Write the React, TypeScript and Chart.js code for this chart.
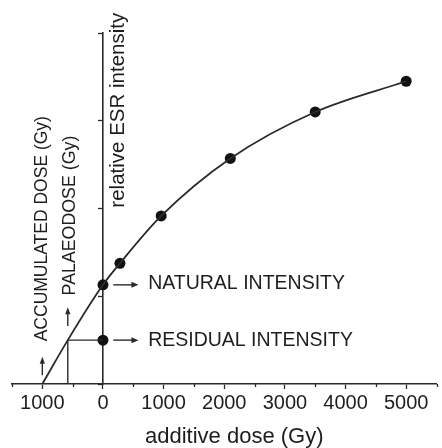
import React, { useEffect, useRef } from 'react';
import { Chart, registerables } from 'chart.js';

Chart.register(...registerables);

// measured points: additive dose (Gy) vs relative ESR intensity
const additiveDose = [0, 280, 960, 2100, 3500, 5000];
const esrIntensity = [1.13, 1.375, 1.915, 2.57, 3.1, 3.45];
// extrapolation read-offs
const accumulatedDose = -1000;
const palaeodose = -580;
const residualIntensity = 0.5;
const naturalIntensity = 1.13;
// axis labels
const xTitle = 'additive dose (Gy)';
const yTitle = 'relative ESR intensity';
const accumulatedLabel = 'ACCUMULATED DOSE (Gy)';
const palaeoLabel = 'PALAEODOSE (Gy)';
const naturalLabel = 'NATURAL INTENSITY';
const residualLabel = 'RESIDUAL INTENSITY';

const FONT = "'Liberation Sans', Arial, Helvetica, sans-serif";
const INK = '#1e1e1e';
const LINE = '#2a2a2a';

function arrow(ctx: CanvasRenderingContext2D, x1: number, y1: number, x2: number, y2: number, head = 7, half = 3) {
  const ang = Math.atan2(y2 - y1, x2 - x1);
  ctx.beginPath();
  ctx.moveTo(x1, y1);
  ctx.lineTo(x2 - Math.cos(ang) * head * 0.6, y2 - Math.sin(ang) * head * 0.6);
  ctx.stroke();
  ctx.beginPath();
  ctx.moveTo(x2, y2);
  ctx.lineTo(x2 - Math.cos(ang) * head - Math.sin(ang) * half, y2 - Math.sin(ang) * head + Math.cos(ang) * half);
  ctx.lineTo(x2 - Math.cos(ang) * head + Math.sin(ang) * half, y2 - Math.sin(ang) * head - Math.cos(ang) * half);
  ctx.closePath();
  ctx.fill();
}

const annotations = {
  id: 'esrAnnotations',
  afterDatasetsDraw(chart: any) {
    const { ctx } = chart;
    const xs = chart.scales.x;
    const ys = chart.scales.y;
    const px = (v: number) => xs.getPixelForValue(v);
    const py = (v: number) => ys.getPixelForValue(v);
    ctx.save();
    ctx.strokeStyle = LINE;
    ctx.fillStyle = LINE;
    ctx.lineWidth = 1.4;
    // horizontal arrows to labels
    arrow(ctx, px(170), py(naturalIntensity), px(585), py(naturalIntensity));
    arrow(ctx, px(170), py(residualIntensity), px(585), py(residualIntensity));
    // vertical arrows
    arrow(ctx, px(accumulatedDose), py(0.1), px(accumulatedDose), py(0.31), 7, 2.6);
    arrow(ctx, px(palaeodose), py(0.66), px(palaeodose), py(0.875), 7, 2.6);

    ctx.fillStyle = INK;
    ctx.textBaseline = 'middle';
    ctx.textAlign = 'left';
    ctx.font = `19.5px ${FONT}`;
    ctx.fillText(naturalLabel, px(745), py(naturalIntensity) - 1);
    ctx.fillText(residualLabel, px(745), py(residualIntensity));

    // x title
    ctx.font = `22px ${FONT}`;
    ctx.textAlign = 'center';
    ctx.textBaseline = 'alphabetic';
    ctx.fillText(xTitle, px(2165), 443);

    // rotated labels
    const vtext = (t: string, x: number, y: number, size: number) => {
      ctx.save();
      ctx.translate(x, y);
      ctx.rotate(-Math.PI / 2);
      ctx.font = `${size}px ${FONT}`;
      ctx.textAlign = 'center';
      ctx.textBaseline = 'middle';
      ctx.fillText(t, 0, 0);
      ctx.restore();
    };
    vtext(yTitle, px(0) + 15, py(3.12), 20.5);
    vtext(accumulatedLabel, px(accumulatedDose), py(1.77), 17.5);
    vtext(palaeoLabel, px(-545), py(1.92), 17.8);

    // minor x ticks
    ctx.strokeStyle = LINE;
    ctx.lineWidth = 1.3;
    const bottom = chart.chartArea.bottom;
    for (const t of xs.ticks) {
      if (t.value % 1000 !== 0) {
        const x = Math.round(px(t.value)) + 0.5;
        ctx.beginPath();
        ctx.moveTo(x, bottom);
        ctx.lineTo(x, bottom + 3);
        ctx.stroke();
      }
    }
    ctx.restore();
  },
};

export default function App() {
  const ref = useRef<HTMLCanvasElement>(null);
  useEffect(() => {
    if (!ref.current) return;
    const curve = [
      { x: accumulatedDose, y: 0 },
      { x: palaeodose, y: residualIntensity },
      ...additiveDose.map((d, i) => ({ x: d, y: esrIntensity[i] })),
    ];
    const chart = new Chart(ref.current, {
      type: 'scatter',
      data: {
        datasets: [
          {
            data: curve,
            showLine: true,
            pointRadius: 0,
            borderColor: LINE,
            borderWidth: 1.8,
            cubicInterpolationMode: 'monotone',
          } as any,
          {
            data: [
              { x: palaeodose, y: 0 },
              { x: palaeodose, y: residualIntensity },
              { x: 0, y: residualIntensity },
            ],
            showLine: true,
            pointRadius: 0,
            borderColor: LINE,
            borderWidth: 1.4,
            tension: 0,
          } as any,
          {
            data: additiveDose.map((d, i) => ({ x: d, y: esrIntensity[i] })).concat([{ x: 0, y: residualIntensity }]),
            pointRadius: 5.5,
            pointBackgroundColor: '#111',
            pointBorderColor: '#111',
            pointBorderWidth: 0,
            showLine: false,
          } as any,
        ],
      },
      options: {
        animation: false,
        responsive: false,
        events: [],
        layout: { padding: { top: 33, left: 12, right: 0, bottom: 0 } },
        plugins: { legend: { display: false }, tooltip: { enabled: false } },
        scales: {
          x: {
            type: 'linear',
            min: -1500,
            max: 5500,
            afterFit: (s: any) => {
              s.height = 64;
            },
            ticks: {
              stepSize: 500,
              autoSkip: false,
              maxRotation: 0,
              padding: 2,
              color: INK,
              font: { family: FONT, size: 20 },
              callback: (v: any) => (Number(v) % 1000 === 0 ? String(Math.abs(Number(v))) : ''),
            },
            grid: {
              drawOnChartArea: false,
              drawTicks: true,
              tickLength: 5,
              tickWidth: 1.3,
              tickColor: (c: any) => (c.tick && c.tick.value % 1000 === 0 ? LINE : 'rgba(0,0,0,0)'),
            },
            border: { display: true, color: LINE, width: 1.6 },
          },
          y: {
            type: 'linear',
            position: { x: 0 } as any,
            min: 0,
            max: 4,
            ticks: { stepSize: 1, display: false },
            grid: { drawOnChartArea: false, drawTicks: true, tickLength: 4, tickWidth: 1.3, tickColor: LINE },
            border: { display: true, color: LINE, width: 1.6 },
          },
        },
      },
      plugins: [annotations],
    });
    return () => chart.destroy();
  }, []);
  return (
    <div style={{ position: 'absolute', left: 0, top: 0, width: 442, height: 448, background: '#fff' }}>
      <canvas ref={ref} width={442} height={448} />
    </div>
  );
}
